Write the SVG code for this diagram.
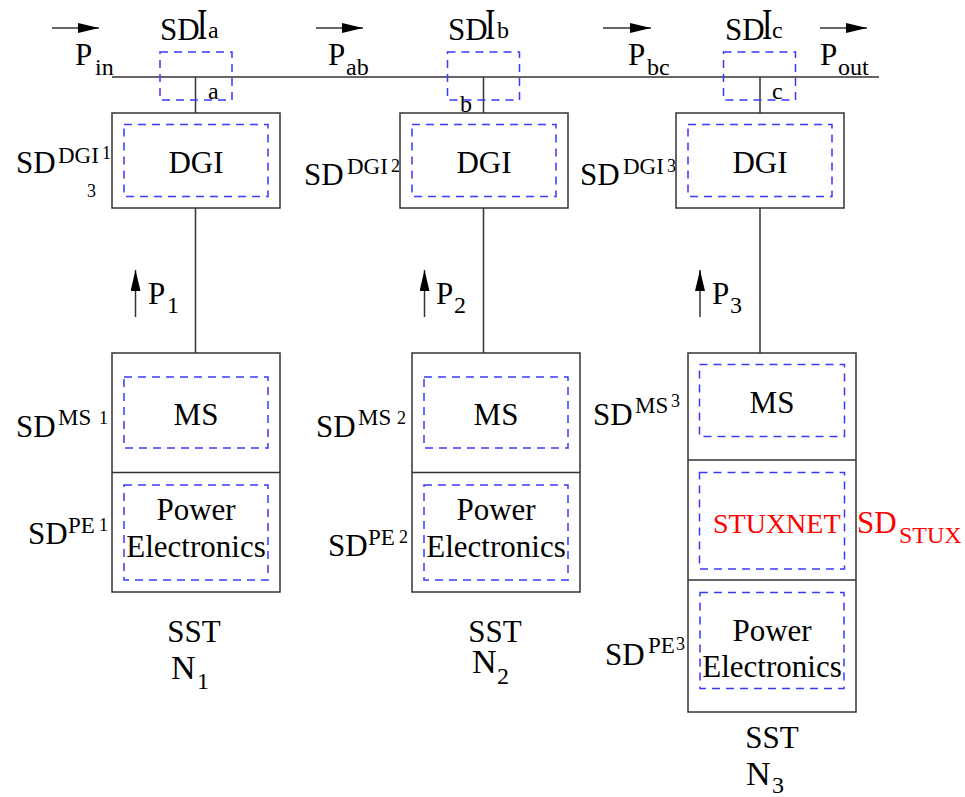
<svg xmlns="http://www.w3.org/2000/svg" width="965" height="797" viewBox="0 0 965 797" font-family="'Liberation Serif', 'DejaVu Serif', 'Times New Roman', serif">
<style>
.ln{stroke:#333;stroke-width:1.5;fill:none}
.box{fill:none;stroke:#333;stroke-width:1.5}
.dash{fill:none;stroke:#3838ff;stroke-width:1.5;stroke-dasharray:8 6}
.t{font-family:'Liberation Serif','DejaVu Serif',serif;font-size:31px;fill:#000}
.sup{font-size:23px}
.num{font-size:18px}
.sub{font-size:24px}
.red{fill:#f00}
.mid{text-anchor:middle}
.big{font-size:34px}
</style>
<defs>
<marker id="ah" markerUnits="userSpaceOnUse" markerWidth="22" markerHeight="10" refX="21" refY="5" orient="auto">
<path d="M0,0 L21,5 L0,10 Z" fill="#000"/>
</marker>
</defs>
<rect width="965" height="797" fill="#fff"/>

<g id="connectors">
<line class="ln" x1="112" y1="77" x2="879" y2="77"/>
<line class="ln" x1="195.5" y1="77" x2="195.5" y2="113"/>
<line class="ln" x1="483.5" y1="77" x2="483.5" y2="113"/>
<line class="ln" x1="760" y1="77" x2="760" y2="113"/>
<line class="ln" x1="195.5" y1="208" x2="195.5" y2="353"/>
<line class="ln" x1="483.5" y1="208" x2="483.5" y2="353"/>
<line class="ln" x1="760" y1="208" x2="760" y2="353"/>
<line class="ln" x1="52" y1="28" x2="99" y2="28" stroke="#000" marker-end="url(#ah)"/>
<line class="ln" x1="316" y1="28" x2="363" y2="28" stroke="#000" marker-end="url(#ah)"/>
<line class="ln" x1="603" y1="28" x2="651" y2="28" stroke="#000" marker-end="url(#ah)"/>
<line class="ln" x1="820" y1="28" x2="867" y2="28" stroke="#000" marker-end="url(#ah)"/>
<line class="ln" x1="135.5" y1="317" x2="135.5" y2="270" stroke="#000" marker-end="url(#ah)"/>
<line class="ln" x1="424.5" y1="317" x2="424.5" y2="270" stroke="#000" marker-end="url(#ah)"/>
<line class="ln" x1="700" y1="317" x2="700" y2="270" stroke="#000" marker-end="url(#ah)"/>
</g>

<g id="power-labels" class="t">
<text x="75" y="65">P<tspan class="sub" x="95" y="75">in</tspan></text>
<text x="328" y="65">P<tspan class="sub" x="346" y="75">ab</tspan></text>
<text x="628" y="65">P<tspan class="sub" x="647" y="75">bc</tspan></text>
<text x="820" y="65">P<tspan class="sub" x="838" y="75">out</tspan></text>
<text x="148" y="304">P<tspan class="sub" x="167" y="313">1</tspan></text>
<text x="436" y="304">P<tspan class="sub" x="454" y="313">2</tspan></text>
<text x="712" y="304">P<tspan class="sub" x="730" y="313">3</tspan></text>
</g>

<g id="junction-a" class="t">
<rect class="dash" x="160" y="52" width="72" height="48"/>
<text x="160" y="40">SD</text>
<text transform="translate(197,39) scale(1,1.45)">I</text>
<text class="sub" x="208" y="38">a</text>
<text class="sub" x="208" y="99">a</text>
</g>
<g id="junction-b" class="t">
<rect class="dash" x="447.5" y="52" width="72" height="48"/>
<text x="448" y="40">SD</text>
<text transform="translate(485,39) scale(1,1.45)">I</text>
<text class="sub" x="497" y="38">b</text>
<text class="sub" x="460" y="112">b</text>
</g>
<g id="junction-c" class="t">
<rect class="dash" x="723.5" y="52" width="72" height="48"/>
<text x="725" y="40">SD</text>
<text transform="translate(762,39) scale(1,1.45)">I</text>
<text class="sub" x="772" y="38">c</text>
<text class="sub" x="772" y="99">c</text>
</g>

<g id="dgi-1" class="t">
<rect class="box" x="112" y="113" width="168" height="95"/>
<rect class="dash" x="124" y="124.5" width="144" height="72"/>
<text class="mid" x="196" y="173">DGI</text>
<text x="16" y="173">SD<tspan class="sup" x="58" y="163">DGI</tspan><tspan class="num" x="102" y="159">1</tspan><tspan class="num" x="87" y="197">3</tspan></text>
</g>
<g id="dgi-2" class="t">
<rect class="box" x="400" y="113" width="168" height="95"/>
<rect class="dash" x="412" y="124.5" width="144" height="72"/>
<text class="mid" x="484" y="173">DGI</text>
<text x="304" y="185">SD<tspan class="sup" x="347" y="174">DGI</tspan><tspan class="num" x="391" y="172">2</tspan></text>
</g>
<g id="dgi-3" class="t">
<rect class="box" x="676" y="113" width="168" height="95"/>
<rect class="dash" x="688" y="124.5" width="144" height="72"/>
<text class="mid" x="760" y="173">DGI</text>
<text x="580" y="185">SD<tspan class="sup" x="623" y="174">DGI</tspan><tspan class="num" x="667" y="172">3</tspan></text>
</g>

<g id="sst-1" class="t">
<rect class="box" x="112" y="353" width="168" height="239"/>
<line class="ln" x1="112" y1="472.5" x2="280" y2="472.5"/>
<rect class="dash" x="124" y="377" width="144" height="71"/>
<rect class="dash" x="124" y="485" width="144" height="95"/>
<text class="mid" x="196" y="425">MS</text>
<text class="mid" x="196" y="520">Power</text>
<text class="mid" x="196" y="557">Electronics</text>
<text x="16" y="437">SD<tspan class="sup" x="58" y="425">MS</tspan><tspan class="num" x="99" y="424">1</tspan></text>
<text x="28" y="544">SD<tspan class="sup" x="68" y="533">PE</tspan><tspan class="num" x="99" y="531">1</tspan></text>
<text class="mid" x="194" y="642">SST</text>
<text class="big" x="171" y="679">N<tspan class="sub" x="197" y="689">1</tspan></text>
</g>
<g id="sst-2" class="t">
<rect class="box" x="412" y="353" width="168" height="239"/>
<line class="ln" x1="412" y1="472.5" x2="580" y2="472.5"/>
<rect class="dash" x="424" y="377" width="144" height="71"/>
<rect class="dash" x="424" y="485" width="144" height="95"/>
<text class="mid" x="496" y="425">MS</text>
<text class="mid" x="496" y="520">Power</text>
<text class="mid" x="496" y="557">Electronics</text>
<text x="316" y="437">SD<tspan class="sup" x="358" y="425">MS</tspan><tspan class="num" x="397" y="424">2</tspan></text>
<text x="328" y="556">SD<tspan class="sup" x="368" y="545">PE</tspan><tspan class="num" x="399" y="543">2</tspan></text>
<text class="mid" x="495" y="642">SST</text>
<text class="big" x="472" y="673">N<tspan class="sub" x="497" y="684">2</tspan></text>
</g>
<g id="sst-3" class="t">
<rect class="box" x="688" y="353" width="168" height="359"/>
<line class="ln" x1="688" y1="460" x2="856" y2="460"/>
<line class="ln" x1="688" y1="580" x2="856" y2="580"/>
<rect class="dash" x="699.5" y="364.5" width="145" height="72"/>
<rect class="dash" x="699.5" y="472.5" width="145" height="96.5"/>
<rect class="dash" x="700" y="592.5" width="144" height="96"/>
<text class="mid" x="772" y="413">MS</text>
<text class="red" x="713" y="533" style="font-size:28px">STUXNET</text>
<text class="red" x="857" y="533">SD<tspan class="sub" x="899" y="543">STUX</tspan></text>
<text class="mid" x="772" y="641">Power</text>
<text class="mid" x="772" y="677">Electronics</text>
<text x="593" y="425">SD<tspan class="sup" x="635" y="413">MS</tspan><tspan class="num" x="671" y="407">3</tspan></text>
<text x="605" y="665">SD<tspan class="sup" x="648" y="653">PE</tspan><tspan class="num" x="676" y="650">3</tspan></text>
<text class="mid" x="772" y="748">SST</text>
<text class="big" x="746" y="785">N<tspan class="sub" x="772" y="793">3</tspan></text>
</g>
</svg>
